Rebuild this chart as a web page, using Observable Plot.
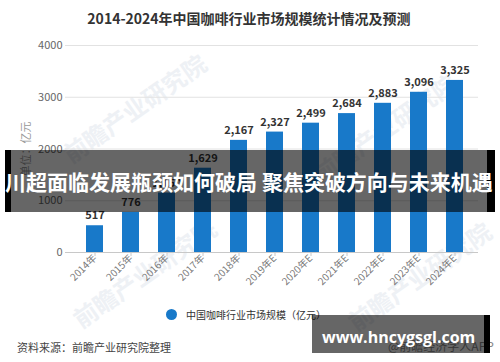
<!DOCTYPE html>
<html>
<head>
<meta charset="utf-8">
<script src="https://cdn.jsdelivr.net/npm/d3@7"></script>
<script src="https://cdn.jsdelivr.net/npm/@observablehq/plot@0.6"></script>
<style>
  html, body { margin: 0; padding: 0; background: #fff; }
  #wrap { position: relative; width: 500px; height: 362px; overflow: hidden; font-family: "Noto Sans CJK SC", "Noto Sans", sans-serif; }
  #chart { position: absolute; left: 0; top: 0; }
  .abs { position: absolute; white-space: nowrap; }
  .wm { position: absolute; white-space: nowrap; color: #eef1f5; font-size: 24px; font-weight: bold; transform: rotate(-35deg); transform-origin: center; }
</style>
</head>
<body>
<div id="wrap">
  <div class="wm" style="left:50px; top:90px;">前瞻产业研究院</div>
  <div class="wm" style="left:300px; top:110px;">前瞻产业研究院</div>
  <div class="wm" style="left:60px; top:255px;">前瞻产业研究院</div>
  <div class="wm" style="left:335px; top:258px;">前瞻产业研究院</div>
  <div id="chart"></div>
  <div class="abs" id="title" style="left:0; width:498px; top:8px; text-align:center; font-size:14px; font-weight:bold; color:#333;"></div>
  <div class="abs" id="ylab" style="left:25px; top:149px; transform: translate(-50%,-50%) rotate(-90deg); font-size:11px; color:#999;"></div>
  <div class="abs" id="legend" style="left:166px; top:307px; font-size:10px; color:#333; line-height:16px;"></div>
  <div class="abs" id="source" style="left:17px; top:339px; font-size:11px; color:#444; line-height:16px;"></div>
  <div class="abs" id="app" style="left:388px; top:338px; font-size:12px; color:#888; line-height:16px;"></div>
  <!-- banner overlay -->
  <div class="abs" style="left:5px; top:150px; width:490px; height:62px; background: rgba(0,0,0,0.6);"></div>
  <div class="abs" style="left:5px; top:150px; width:6px; height:62px; background:#000;"></div>
  <div class="abs" style="left:487px; top:150px; width:8px; height:62px; background:#000;"></div>
  <div class="abs" id="banner" style="left:0; width:498px; top:166px; text-align:center; font-size:21px; font-weight:bold; color:#fff; line-height:30px;"></div>
  <!-- site watermark box -->
  <div class="abs" style="left:312px; top:315px; width:173px; height:38px; background: rgba(0,0,0,0.6);"></div>
  <div class="abs" style="left:484px; top:315px; width:6px; height:38px; background:#000;"></div>
  <div class="abs" id="site" style="left:322px; top:326px; font-family:'Open Sans', sans-serif; font-size:16px; font-weight:bold; color:#fff; line-height:22px;"></div>
</div>
<script>
const titleText = "2014-2024年中国咖啡行业市场规模统计情况及预测";
const years = ["2014年","2015年","2016年","2017年","2018年","2019年E","2020年E","2021年E","2022年E","2023年E","2024年E"];
const values = [517, 776, 1150, 1629, 2167, 2327, 2499, 2684, 2883, 3096, 3325];
const yTicks = [0, 1000, 2000, 3000, 4000];
const yLabel = "单位：亿元";
const legendText = "中国咖啡行业市场规模（亿元）";
const sourceText = "资料来源：前瞻产业研究院整理";
const bannerText = "川超面临发展瓶颈如何破局 聚焦突破方向与未来机遇";
const siteText = "www.hncygsgl.com";
const appText = "@前瞻经济学人APP";

const data = years.map((y, i) => ({year: y, value: values[i]}));
const barColor = "#1879c9";

const chart = Plot.plot({
  width: 500,
  height: 300,
  marginTop: 45,
  marginBottom: 48,
  marginLeft: 65,
  marginRight: 22,
  style: {fontFamily: "'Noto Sans CJK SC', 'Noto Sans', sans-serif", background: "transparent"},
  x: {domain: years, range: [72, 477], paddingInner: 0.54, paddingOuter: 0.3, label: null},
  y: {domain: [0, 4000], label: null},
  marks: [
    Plot.ruleY(yTicks.filter(d => d > 0), {stroke: "#e2e2e2"}),
    Plot.barY(data, {x: "year", y: "value", fill: barColor}),
    Plot.ruleY([0], {stroke: "#c8c8c8"}),
    Plot.text(data, {x: "year", y: "value", text: d => d3.format(",")(d.value), dy: -10, fontWeight: "bold", fontSize: 11, fill: "#333"}),
    Plot.axisY({ticks: yTicks, tickSize: 0, tickPadding: 3, tickFormat: d => String(d), fontSize: 11, fill: "#666", label: null}),
    Plot.axisX({tickSize: 4, tickPadding: 0, tickRotate: -45, fontSize: 10, fill: "#777", stroke: "#c8c8c8", label: null})
  ]
});
document.getElementById("chart").appendChild(chart);

document.getElementById("title").textContent = titleText;
document.getElementById("ylab").textContent = yLabel;
document.getElementById("legend").innerHTML =
  `<span style="display:inline-block;width:11px;height:11px;border-radius:50%;background:${barColor};vertical-align:-1px;margin-right:9px;"></span>` + legendText;
document.getElementById("source").textContent = sourceText;
document.getElementById("app").textContent = appText;
document.getElementById("banner").textContent = bannerText;
document.getElementById("site").textContent = siteText;
</script>
</body>
</html>
